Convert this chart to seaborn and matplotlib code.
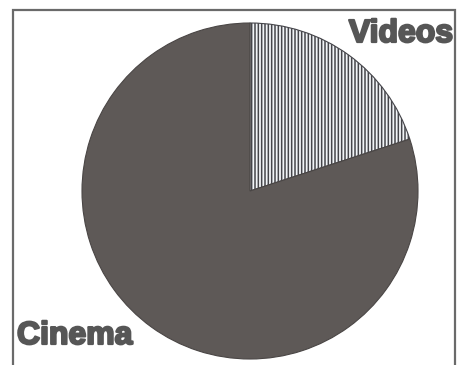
import matplotlib
matplotlib.use("Agg")
import matplotlib.pyplot as plt
import matplotlib.patheffects as pe
import seaborn as sns
from matplotlib.patches import Rectangle

# Share of viewing by medium (percent)
categories = ["Videos", "Cinema"]
shares = [20, 80]

sns.set_style("white")
plt.rcParams["font.family"] = ["Liberation Sans", "DejaVu Sans"]
plt.rcParams["hatch.linewidth"] = 1.1

W, H = 463, 365
fig = plt.figure(figsize=(W / 100, H / 100), dpi=100)
fig.patch.set_facecolor("white")

# pie centred at (250, 191) px with a 168 px radius
cx, cy, r = 250, 191, 168
ax = fig.add_axes([(cx - r) / W, (H - cy - r) / H, 2 * r / W, 2 * r / H])

fill_colors = ["#f2f5f8", "#5e5957"]
wedges, _ = ax.pie(
    shares,
    startangle=90,
    counterclock=False,
    colors=fill_colors,
    wedgeprops=dict(edgecolor="#4a4645", linewidth=0.8),
)
wedges[0].set_hatch("|||||")
wedges[0].set_edgecolor("#45454a")
ax.set_xlim(-1, 1)
ax.set_ylim(-1, 1)
ax.set_aspect("equal")
ax.axis("off")

# frame around the chart, running off the bottom edge
frame = Rectangle((13 / W, -0.05), (455 - 13) / W, (H - 10) / H + 0.05,
                  transform=fig.transFigure, fill=False,
                  edgecolor="#6a6a6a", linewidth=1.6, clip_on=False)
fig.add_artist(frame)

label_color = "#565656"
label_style = dict(fontsize=23, fontweight="bold", color=label_color,
                   path_effects=[pe.withStroke(linewidth=1.6, foreground=label_color)])
fig.text(453 / W, (H - 42) / H, categories[0], ha="right", va="baseline", **label_style)
fig.text(17 / W, (H - 344) / H, categories[1], ha="left", va="baseline", **label_style)

fig.savefig("out.png", dpi=100, facecolor="white")
